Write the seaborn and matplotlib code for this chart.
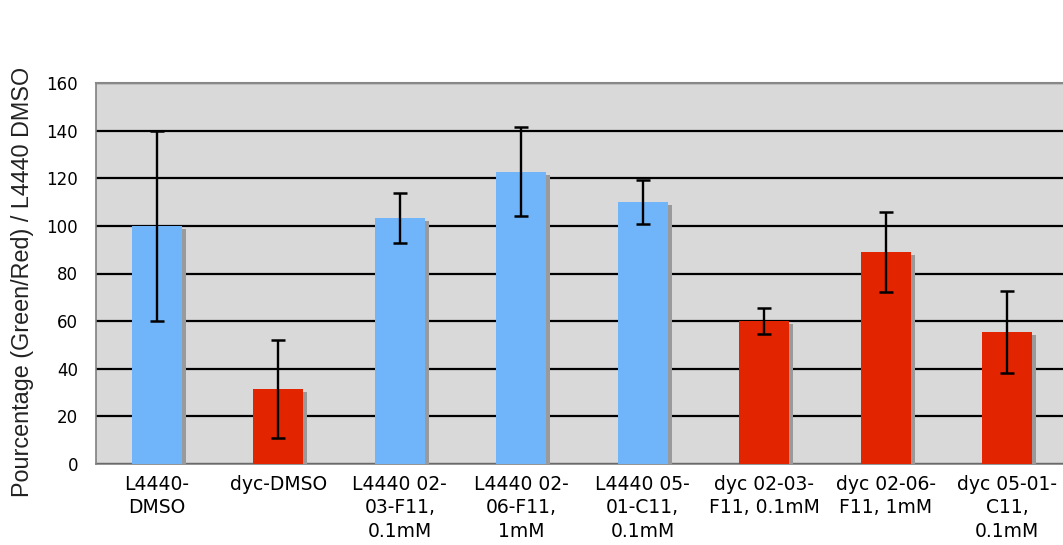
import matplotlib
matplotlib.use("Agg")
import matplotlib.pyplot as plt
import matplotlib.patheffects as pe
import seaborn as sns
import pandas as pd

categories = ["L4440-\nDMSO", "dyc-DMSO", "L4440 02-\n03-F11,\n0.1mM", "L4440 02-\n06-F11,\n1mM",
              "L4440 05-\n01-C11,\n0.1mM", "dyc 02-03-\nF11, 0.1mM", "dyc 02-06-\nF11, 1mM",
              "dyc 05-01-\nC11,\n0.1mM"]
values = [100, 31.5, 103.3, 122.7, 110, 60, 89, 55.3]
errors = [40, 20.5, 10.3, 18.7, 9.2, 5.4, 16.8, 17.2]
groups = ["L4440", "dyc", "L4440", "L4440", "L4440", "dyc", "dyc", "dyc"]
yticks = [0, 20, 40, 60, 80, 100, 120, 140, 160]
ylabel = "Pourcentage (Green/Red) / L4440 DMSO"

blue = "#70b5fa"
red = "#e32400"

df = pd.DataFrame({"cat": categories, "val": values, "err": errors, "grp": groups})

sns.set_style("white")
plt.rcParams["font.family"] = ["DejaVu Sans"]
fig = plt.figure(figsize=(10.63, 5.45), dpi=100)
W, H = 1063, 545
ax = fig.add_axes([96 / W, (H - 464) / H, (1068 - 96) / W, (464 - 83) / H])
ax.set_facecolor("#d9d9d9")

sns.barplot(data=df, x="cat", y="val", hue="grp", palette={"L4440": blue, "dyc": red},
            order=categories, dodge=False, width=0.41, legend=False, ax=ax,
            errorbar=None, saturation=1, zorder=3)
for p in ax.patches:
    p.set_edgecolor("none")
    p.set_path_effects([pe.SimplePatchShadow(offset=(3, -2.2), shadow_rgbFace="#9a9a9a", alpha=1),
                        pe.Normal()])

ax.errorbar(range(len(categories)), values, yerr=errors, fmt="none", ecolor="black",
            elinewidth=1.7, capsize=5, capthick=1.8, zorder=5)

ax.set_ylim(0, 160)
ax.set_xlim(-0.5, len(categories) - 0.5)
ax.set_yticks(yticks)
ax.yaxis.grid(True, color="black", linewidth=1.6, zorder=1)
ax.set_axisbelow(True)

ax.set_xticks(range(len(categories)))
ax.set_xticklabels(categories, fontsize=13.5, linespacing=1.28, ha="center", va="top")
ax.set_xticks([i - 0.5 for i in range(len(categories) + 1)], minor=True)
ax.tick_params(axis="x", which="major", length=0, pad=8, colors="black")
ax.tick_params(axis="x", which="minor", length=5, width=1, color="#555555", direction="out")
ax.tick_params(axis="y", length=4, width=1, color="#555555", direction="out", labelsize=12,
               pad=9, labelcolor="black")

ax.set_xlabel("")
ax.set_ylabel(ylabel, fontsize=16.8, family="Liberation Sans", color="#222222")
ax.yaxis.set_label_coords(-62 / (1068 - 96), (464 - 282) / (464 - 83))

for s in ["left", "bottom"]:
    ax.spines[s].set_color("#808080")
    ax.spines[s].set_linewidth(1.2)
ax.spines["top"].set_color("#888888")
ax.spines["top"].set_linewidth(1.5)
ax.spines["right"].set_visible(False)

fig.savefig("out.png", dpi=100)
